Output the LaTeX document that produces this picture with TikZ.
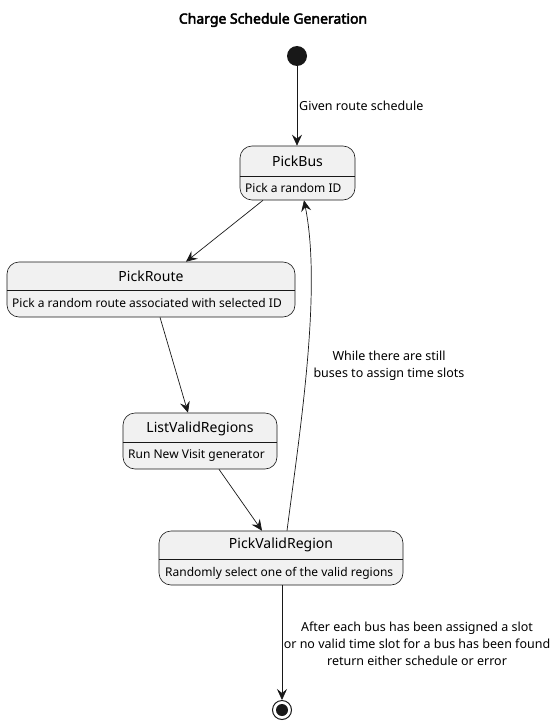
\documentclass[tikz,border=0pt]{standalone}
\usepackage{fontspec}
\setmainfont{Noto Sans}
\newfontfamily\titlefont[FakeBold=3.2]{Noto Sans}
\usetikzlibrary{arrows.meta}
\definecolor{boxfill}{HTML}{F1F1F1}
\definecolor{ink}{HTML}{181818}
\begin{document}
\begin{tikzpicture}[x=1pt,y=-1pt,
  statebox/.style={draw=ink, fill=boxfill, rounded corners=12pt, line width=0.6pt, inner sep=0pt},
  namelbl/.style={font=\fontsize{14}{16}\selectfont, text=black, inner sep=0pt},
  desclbl/.style={font=\fontsize{12}{14}\selectfont, text=black, inner sep=0pt, anchor=west},
  edgelbl/.style={font=\fontsize{12.5}{17}\selectfont, text=black, inner sep=0pt, align=center},
  conn/.style={draw=ink, line width=0.7pt, -{Stealth[length=11pt,width=10pt,inset=4pt]}}
]
\useasboundingbox (0,0) rectangle (558,725);
% title
\node[font=\titlefont\fontsize{14}{16}\selectfont, inner sep=0pt] (title) at (273,20) {Charge Schedule Generation};
% start
\node[circle, fill=ink, minimum size=20pt, inner sep=0pt] (start) at (297,56) {};
% states
\node[statebox, minimum width=115pt, minimum height=54pt] (pickbus) at (297.5,173) {};
\draw[ink, line width=0.6pt] (pickbus.west |- 0,176) -- (pickbus.east |- 0,176);
\node[namelbl] (pickbusN) at (297.5,161) {PickBus};
\node[desclbl] (pickbusD) at (245,188) {Pick a random ID};

\node[statebox, minimum width=288pt, minimum height=55pt] (pickroute) at (151,289.5) {};
\draw[ink, line width=0.6pt] (pickroute.west |- 0,290) -- (pickroute.east |- 0,290);
\node[namelbl] (pickrouteN) at (151,276) {PickRoute};
\node[desclbl] (pickrouteD) at (12,303) {Pick a random route associated with selected ID};

\node[statebox, minimum width=154pt, minimum height=56pt] (listvalid) at (200,441) {};
\draw[ink, line width=0.6pt] (listvalid.west |- 0,442) -- (listvalid.east |- 0,442);
\node[namelbl] (listvalidN) at (200,429) {ListValidRegions};
\node[desclbl] (listvalidD) at (128,456) {Run New Visit generator};

\node[statebox, minimum width=244pt, minimum height=54pt] (pickvalid) at (281,558) {};
\draw[ink, line width=0.6pt] (pickvalid.west |- 0,559) -- (pickvalid.east |- 0,559);
\node[namelbl] (pickvalidN) at (281,545) {PickValidRegion};
\node[desclbl] (pickvalidD) at (165,573) {Randomly select one of the valid regions};
% end
\node[circle, draw=ink, line width=1pt, fill=white, minimum size=19pt, inner sep=0pt] (endst) at (282,710) {};
\node[circle, fill=ink, minimum size=12pt, inner sep=0pt] (endin) at (282,710) {};
% connectors
\draw[conn] (start) -- (start |- pickbus.north);
\node[edgelbl, anchor=west] (lbl1) at (299,106) {Given route schedule};
\draw[conn] (pickbus.south -| 263,0) -- (pickroute.north -| 186,0);
\draw[conn] (pickroute.south -| 160,0) -- (listvalid.north -| 188,0);
\draw[conn] (listvalid.south -| 219,0) -- (pickvalid.north -| 262,0);
\draw[conn] (pickvalid.north -| 287,0) .. controls (300,430) and (322,290) .. (pickbus.south -| 304,0);
\node[edgelbl] (lbl2) at (389,366) {While there are still\\buses to assign time slots};
\draw[conn] (pickvalid.south -| 282,0) -- (endst.north);
\node[edgelbl] (lbl3) at (417,644) {After each bus has been assigned a slot\\or no valid time slot for a bus has been found\\return either schedule or error};
\end{tikzpicture}
\end{document}
